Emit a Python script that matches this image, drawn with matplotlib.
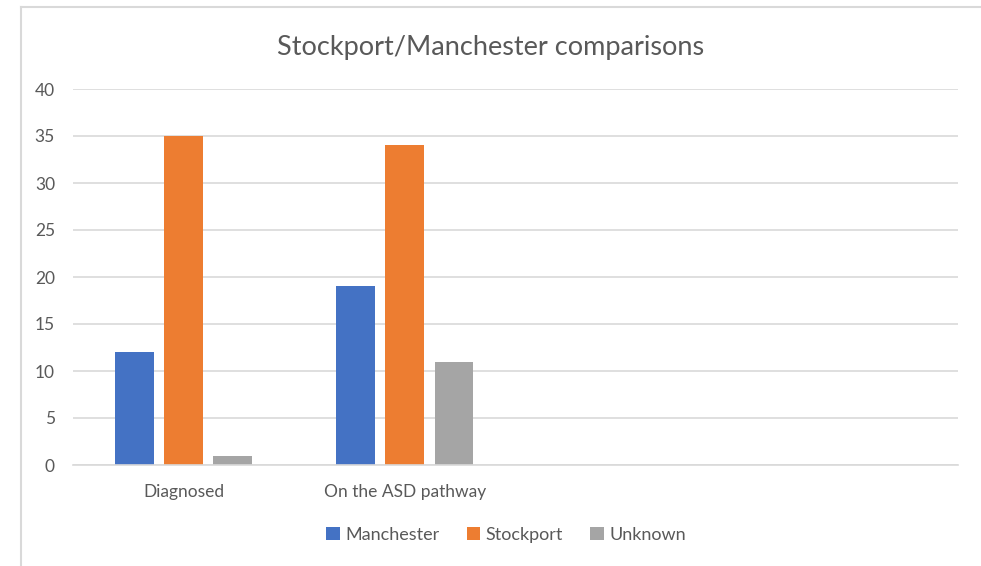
import numpy as np
import matplotlib.pyplot as plt
from matplotlib.lines import Line2D

categories = ["Diagnosed", "On the ASD pathway", "", ""]
series = ["Manchester", "Stockport", "Unknown"]
manchester = [12, 19, 0, 0]
stockport = [35, 34, 0, 0]
unknown = [1, 11, 0, 0]
colors = ["#4472C4", "#ED7D31", "#A5A5A5"]

plt.rcParams['font.family'] = ['Lato', 'DejaVu Sans']
text_color = "#595959"

W, H = 981, 566
fig = plt.figure(figsize=(W / 100, H / 100), dpi=100)
ax = fig.add_axes([73 / W, (H - 465) / H, (958 - 73) / W, (465 - 89) / H])

x = np.arange(len(categories))
bar_w = 0.176
step = 0.222
for i, (vals, name, c) in enumerate(zip([manchester, stockport, unknown], series, colors)):
    shown = [v if v else np.nan for v in vals]
    ax.bar(x + (i - 1) * step, shown, width=bar_w, color=c, label=name)

ax.set_xlim(-0.5, len(categories) - 0.5)
ax.set_ylim(0, 40)
ax.set_yticks(range(0, 41, 5))
ax.set_xticks(x)
ax.set_xticklabels(categories)
ax.yaxis.grid(True, color="#D9D9D9", linewidth=1.2)
ax.set_axisbelow(True)
for s in ["top", "right", "left"]:
    ax.spines[s].set_visible(False)
ax.spines["bottom"].set_color("#D9D9D9")
ax.spines["bottom"].set_linewidth(1.2)
ax.tick_params(axis="both", length=0, labelsize=12.5, colors=text_color)
ax.tick_params(axis="y", pad=13)
ax.tick_params(axis="x", pad=14)

fig.text(0.5, (H - 47) / H, "Stockport/Manchester comparisons",
         ha="center", va="center", fontsize=19.5, color=text_color)

leg = fig.legend(loc="center", bbox_to_anchor=(506 / W, (H - 535) / H), ncol=3,
                 frameon=False, fontsize=13, handlelength=0.75, handleheight=0.75,
                 handletextpad=0.3, columnspacing=1.5)
for t in leg.get_texts():
    t.set_color(text_color)

# outer chart border (left and top edges)
fig.add_artist(Line2D([20.5 / W, 20.5 / W], [0, (H - 6.5) / H], color="#D9D9D9", linewidth=1.5))
fig.add_artist(Line2D([20.5 / W, 1], [(H - 6.5) / H, (H - 6.5) / H], color="#D9D9D9", linewidth=1.5))

fig.savefig("out.png", dpi=100)
